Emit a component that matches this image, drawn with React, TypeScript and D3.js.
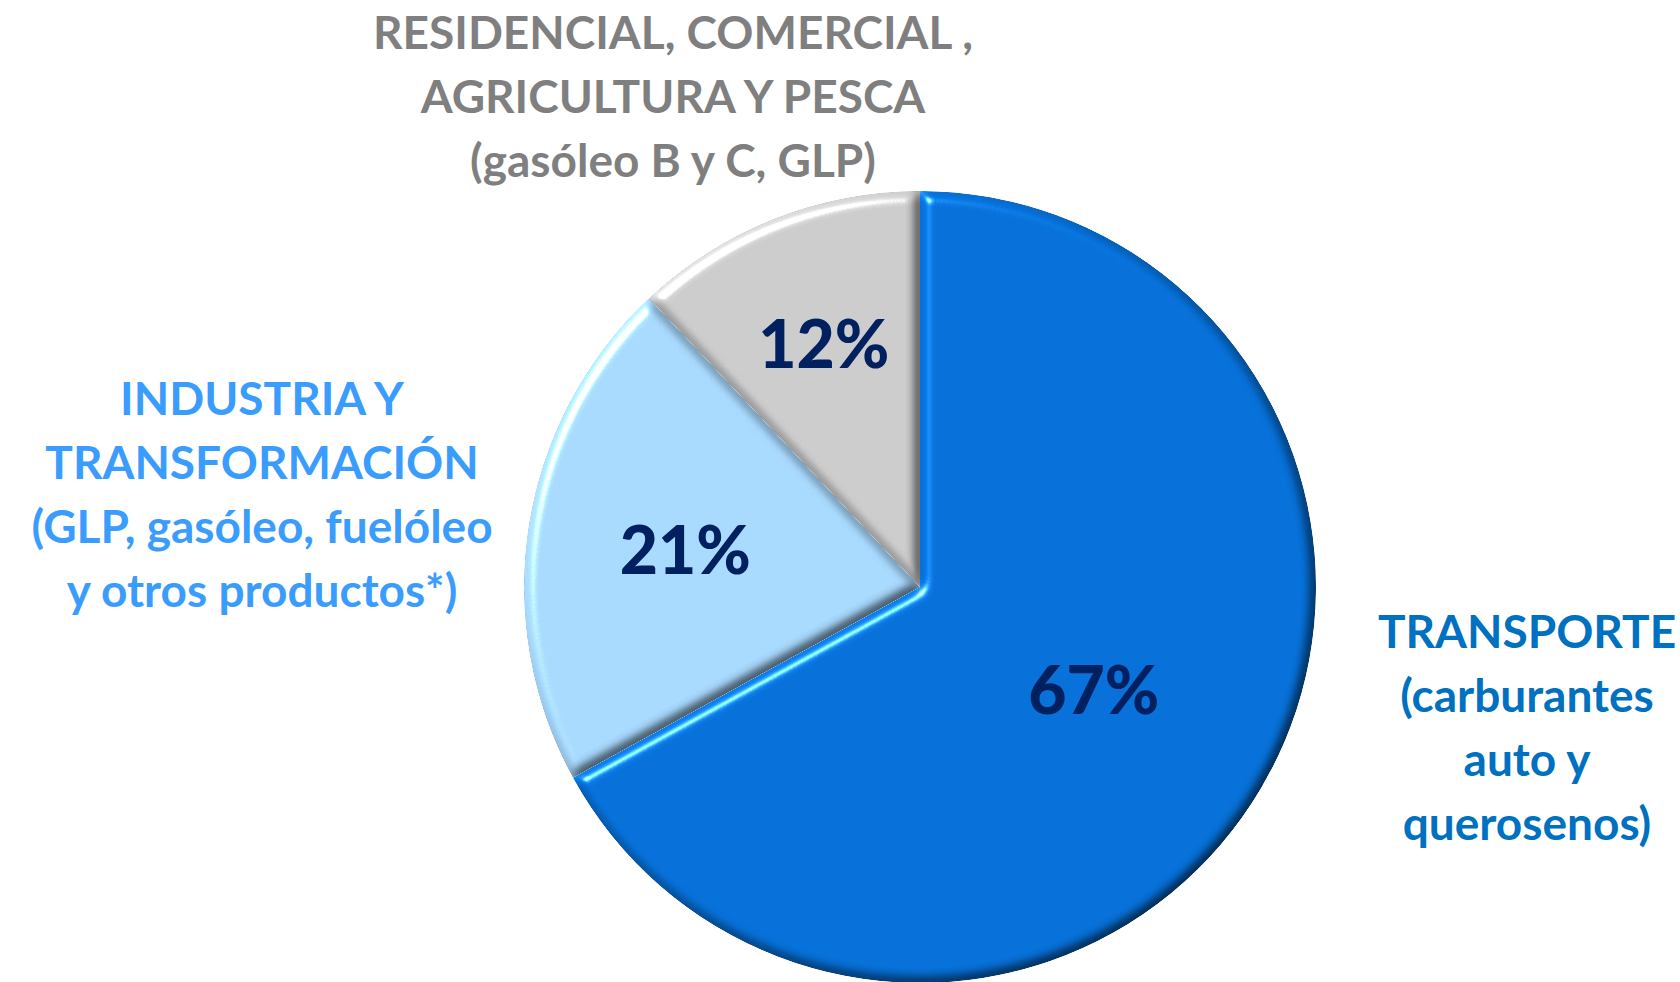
import React from "react";
import * as d3 from "d3";

// consumo de productos petrolíferos por sector
const sectors = ["TRANSPORTE", "INDUSTRIA Y TRANSFORMACIÓN", "RESIDENCIAL, COMERCIAL, AGRICULTURA Y PESCA"];
const shares = [67, 21, 12];
const sectorLines = [
  ["TRANSPORTE", "(carburantes", "auto y", "querosenos)"],
  ["INDUSTRIA Y", "TRANSFORMACIÓN", "(GLP, gasóleo, fuelóleo", "y otros productos*)"],
  ["RESIDENCIAL, COMERCIAL ,", "AGRICULTURA Y PESCA", "(gasóleo B y C, GLP)"],
];

const sliceColors = ["#0670D8", "#A7D8FD", "#CBCBCB"];
const titleColors = ["#0070C0", "#3A9CFC", "#7F7F7F"];

export default function App() {
  const width = 1680, height = 982;
  const cx = 920, cy = 587, r = 396;
  const font = "Lato, 'Open Sans', sans-serif";

  const pie = d3.pie<number>().sort(null).value(d => d);
  const arcs = pie(shares);
  const arc = d3.arc<d3.PieArcDatum<number>>().innerRadius(0).outerRadius(r);

  // distance of each percentage from the centre, as a share of the radius
  const pctRadius = [0.51, 0.6, 0.66];

  // where each block of sector text sits (centre x, first baseline)
  const blocks = [
    { x: 1527, y: 648 },
    { x: 262, y: 415 },
    { x: 673, y: 49 },
  ];
  const lineGap = 64;

  // bevel: diffuse light darkens the far edges, specular adds the shine,
  // flat faces keep their colour (light on a flat face = sin 55deg)
  const flat = Math.sin((55 * Math.PI) / 180);
  const mix = 0.6;

  return (
    <svg width={width} height={height} style={{ position: "absolute", left: 0, top: 0, background: "#fff" }}>
      <defs>
        <filter id="bevel" x="-5%" y="-5%" width="110%" height="110%" colorInterpolationFilters="sRGB">
          <feGaussianBlur in="SourceAlpha" stdDeviation="6" result="blur" />
          <feDiffuseLighting in="blur" surfaceScale="9" diffuseConstant="1" lightingColor="#fff" result="light">
            <feDistantLight azimuth="225" elevation="55" />
          </feDiffuseLighting>
          <feComposite in="SourceGraphic" in2="light" operator="arithmetic"
            k1={mix / flat} k2={1 - mix} k3="0" k4="0" result="lit" />
          <feSpecularLighting in="blur" surfaceScale="9" specularConstant="0.8" specularExponent="40"
            lightingColor="#fff" result="spec">
            <feDistantLight azimuth="225" elevation="35" />
          </feSpecularLighting>
          <feComposite in="lit" in2="spec" operator="arithmetic" k1="0" k2="1" k3="1" k4="0" result="both" />
          <feComposite in="both" in2="SourceAlpha" operator="in" />
        </filter>
      </defs>

      <g transform={`translate(${cx},${cy})`}>
        {arcs.map((a, i) => (
          <path key={sectors[i]} d={arc(a) || ""} fill={sliceColors[i]} filter="url(#bevel)" />
        ))}
        {arcs.map((a, i) => {
          const k = r * pctRadius[i];
          const [x, y] = d3.arc<d3.PieArcDatum<number>>().innerRadius(k).outerRadius(k).centroid(a);
          return (
            <text key={"p" + i} x={x} y={y} dy="0.36em" textAnchor="middle"
              fontFamily={font} fontWeight={900} fontSize={66} fill="#002060">
              {shares[i]}%
            </text>
          );
        })}
      </g>

      {sectorLines.map((lines, i) => (
        <text key={"t" + i} textAnchor="middle" fontFamily={font} fontWeight={700} fontSize={46} fill={titleColors[i]}>
          {lines.map((l, j) => (
            <tspan key={j} x={blocks[i].x} y={blocks[i].y + j * lineGap}>{l}</tspan>
          ))}
        </text>
      ))}
    </svg>
  );
}
